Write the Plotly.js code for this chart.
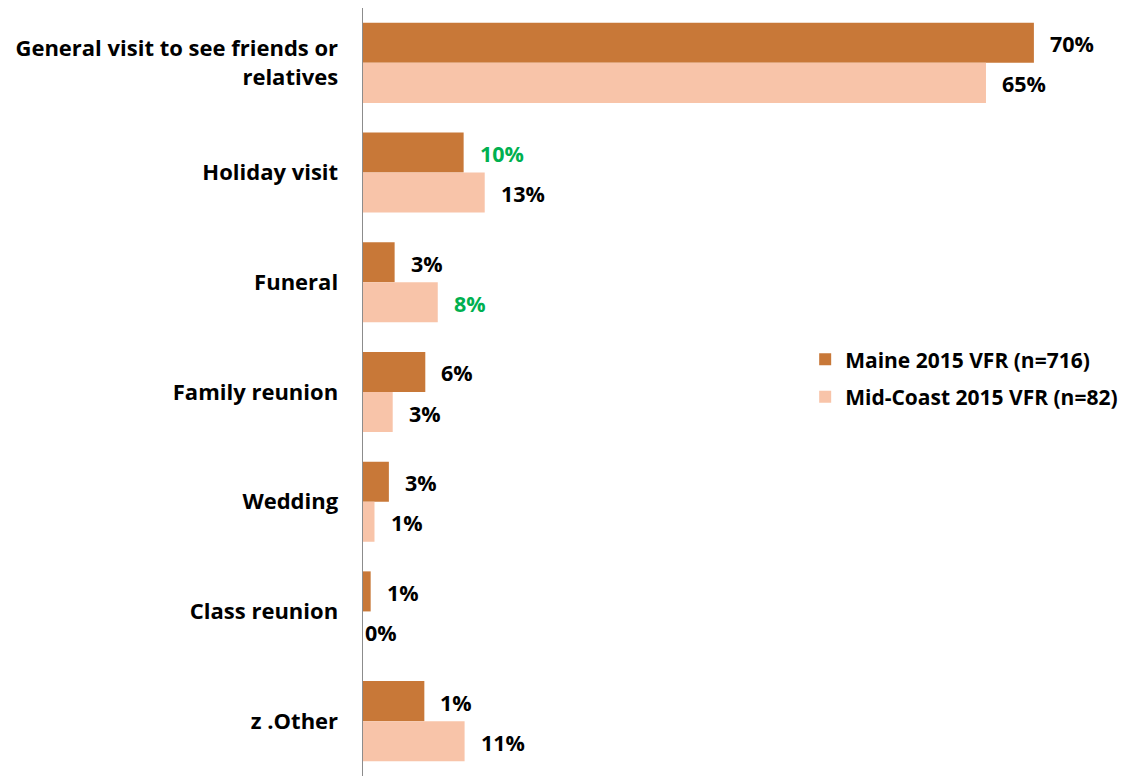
<!DOCTYPE html>
<html>
<head>
<meta charset="utf-8">
<script src="https://cdn.plot.ly/plotly-3.0.1.min.js"></script>
<style>
html, body { margin: 0; padding: 0; background: #ffffff; }
#chart { width: 1147px; height: 776px; }
</style>
</head>
<body>
<div id="chart"></div>
<script>
const categories = [
  "General visit to see friends or<br>relatives",
  "Holiday visit",
  "Funeral",
  "Family reunion",
  "Wedding",
  "Class reunion",
  "z .Other"
];
const seriesNames = ["Maine 2015 VFR (n=716)", "Mid-Coast 2015 VFR (n=82)"];
// bar lengths as drawn (percent)
const maineValues = [70, 10.5, 3.3, 6.5, 2.7, 0.8, 6.4];
const midCoastValues = [65, 12.7, 7.8, 3.1, 1.2, 0, 10.6];
// data labels as printed
const maineLabels = ["70%", "10%", "3%", "6%", "3%", "1%", "1%"];
const midCoastLabels = ["65%", "13%", "8%", "3%", "1%", "0%", "11%"];
const maineLabelColors = ["#000000", "#00B050", "#000000", "#000000", "#000000", "#000000", "#000000"];
const midCoastLabelColors = ["#000000", "#000000", "#00B050", "#000000", "#000000", "#000000", "#000000"];

const colMaine = "#C87838";
const colMid = "#F8C4A9";
const FONT = "'Open Sans', sans-serif";

const traces = [
  {type: "bar", orientation: "h", name: seriesNames[0], y: categories, x: maineValues,
   marker: {color: colMaine}, legendgroup: "a", hoverinfo: "none"},
  {type: "bar", orientation: "h", name: seriesNames[1], y: categories, x: midCoastValues,
   marker: {color: colMid}, legendgroup: "b", hoverinfo: "none"}
];

const annotations = [];
const halfBar = 0.5 * (1 - 0.27) / 2;
function addLabels(values, labels, colors, dy) {
  values.forEach((v, i) => {
    annotations.push({
      x: v, y: i + dy, xref: "x", yref: "y",
      text: "<b>" + labels[i] + "</b>", showarrow: false,
      xanchor: "left", yanchor: "middle",
      xshift: v === 0 ? 0 : 14, yshift: -1,
      font: {family: FONT, size: 21.5, color: colors[i]}
    });
  });
}
addLabels(maineValues, maineLabels, maineLabelColors, -halfBar);
addLabels(midCoastValues, midCoastLabels, midCoastLabelColors, halfBar);

const layout = {
  width: 1147, height: 776,
  margin: {l: 363, r: 0, t: 8, b: 0},
  paper_bgcolor: "#ffffff", plot_bgcolor: "#ffffff",
  barmode: "group", bargap: 0.27, bargroupgap: 0,
  font: {family: FONT, size: 20, color: "#000000"},
  xaxis: {range: [0, 81.8], visible: false, showgrid: false, zeroline: false, fixedrange: true},
  yaxis: {
    type: "category", autorange: "reversed",
    showline: true, linecolor: "#8c8c8c", linewidth: 1.5,
    showgrid: false, zeroline: false, ticks: "", ticklabelstandoff: 19,
    tickfont: {family: FONT, size: 22, color: "#000000", weight: "bold"}
  },
  legend: {
    x: 0.564, y: 0.518, xanchor: "left", yanchor: "middle",
    traceorder: "grouped", tracegroupgap: 7,
    font: {family: FONT, size: 21, color: "#000000", weight: "bold"},
    bgcolor: "rgba(0,0,0,0)"
  },
  showlegend: true,
  annotations: annotations
};

Plotly.newPlot("chart", traces, layout, {displayModeBar: false, staticPlot: true});
</script>
</body>
</html>
